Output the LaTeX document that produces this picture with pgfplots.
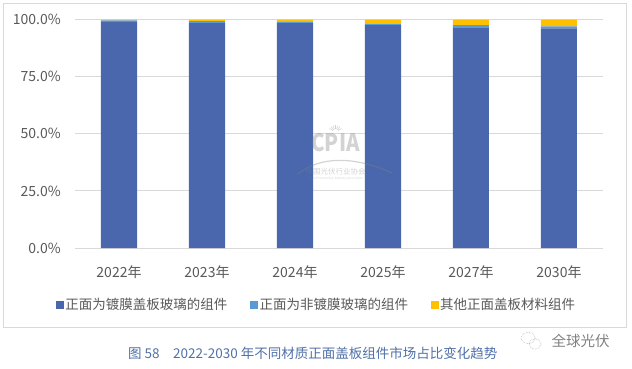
\documentclass[border=0pt]{standalone}
\usepackage{fontspec}
\setmainfont{Noto Sans CJK SC}
\usepackage{pgfplots}
\pgfplotsset{compat=1.18}
\definecolor{c1}{HTML}{4A67AE}
\definecolor{c2}{HTML}{5B9BD5}
\definecolor{c3}{HTML}{FFC000}
\definecolor{gridc}{HTML}{D9D9D9}
\definecolor{txt}{HTML}{595959}
\definecolor{capc}{HTML}{5070A8}
\begin{document}
\begin{tikzpicture}
\begin{scope}[x=1pt,y=1pt]
\useasboundingbox (0,0) rectangle (632,368);
\draw[gridc, line width=1pt] (3.5,41) rectangle (626,365);
\end{scope}
\begin{axis}[
  at={(75pt,120pt)}, anchor=south west, scale only axis,
  width=528pt, height=228.5pt,
  ybar stacked, bar width=36pt,
  ymin=0, ymax=100, xmin=-0.5, xmax=5.5,
  xtick=data,
  xticklabels={2022年,2023年,2024年,2025年,2027年,2030年},
  ytick={0,25,50,75,100},
  yticklabel={\pgfmathprintnumber[fixed,fixed zerofill,precision=1]{\tick}\%},
  /pgf/number format/assume math mode=true,
  axis line style={draw=none},
  major tick length=0pt,
  ymajorgrids, grid style={gridc, line width=1pt},
  tick label style={font=\fontsize{14}{16}\selectfont, text=txt, inner sep=0pt},
  yticklabel style={xshift=-14pt},
  xticklabel style={yshift=-17pt},
  legend columns=3,
  legend style={draw=none, fill=none, anchor=west, at={(-0.0417,-0.2495)},
    font=\fontsize{13.5}{15}\selectfont, text=txt,
    nodes={inner xsep=1.3pt, inner ysep=0pt},
    /tikz/every even column/.append style={column sep=21.5pt}},
  legend image code/.code={\fill[#1] (0pt,-4pt) rectangle (8pt,4pt);},
]
\addplot[fill=c1, draw=none] coordinates {(0,99.0) (1,98.4) (2,98.4) (3,97.5) (4,96.6) (5,96.1)};
\addplot[fill=c2, draw=none] coordinates {(0,0.6) (1,0.9) (2,0.6) (3,0.7) (4,0.9) (5,0.9)};
\addplot[fill=c3, draw=none] coordinates {(0,0.4) (1,0.7) (2,1.0) (3,1.8) (4,2.5) (5,3.0)};
\legend{正面为镀膜盖板玻璃的组件,正面为非镀膜玻璃的组件,其他正面盖板材料组件}
\end{axis}
\begin{scope}[x=1pt,y=1pt]
% watermark
\begin{scope}[opacity=0.35]
\node[text=gray, font=\bfseries\fontsize{24}{26}\selectfont, inner sep=0pt, xscale=0.85] at (335.5,225.5) {CPIA};
\foreach \a in {30,50,...,150} \draw[gray, line width=0.6pt] (335.5,236)++(\a:3) -- ++(\a:4);
\draw[gray, line width=1.2pt] (298,194) .. controls (320,212) and (355,212) .. (392,195);
\node[text=gray, font=\fontsize{7.5}{8}\selectfont, inner sep=0pt] at (335.5,196.5) {中国光伏行业协会};
\node[text=gray, font=\fontsize{3}{3.5}\selectfont, inner sep=0pt] at (335.5,189) {China Photovoltaic Industry Association};
\end{scope}
% caption
\node[text=capc, font=\fontsize{13.5}{15}\selectfont, anchor=west, inner sep=0pt] at (128,15) {图 58\quad 2022-2030 年不同材质正面盖板组件市场占比变化趋势};
\node[text=gray, font=\fontsize{14.5}{16}\selectfont, anchor=west, inner sep=0pt] at (551.5,27) {全球光伏};
\draw[gray!60, line width=0.6pt, densely dotted] (528,30) ellipse (7pt and 5.5pt);
\draw[gray!60, line width=0.6pt, densely dotted] (535,24) ellipse (6pt and 5pt);
\end{scope}
\end{tikzpicture}
\end{document}
